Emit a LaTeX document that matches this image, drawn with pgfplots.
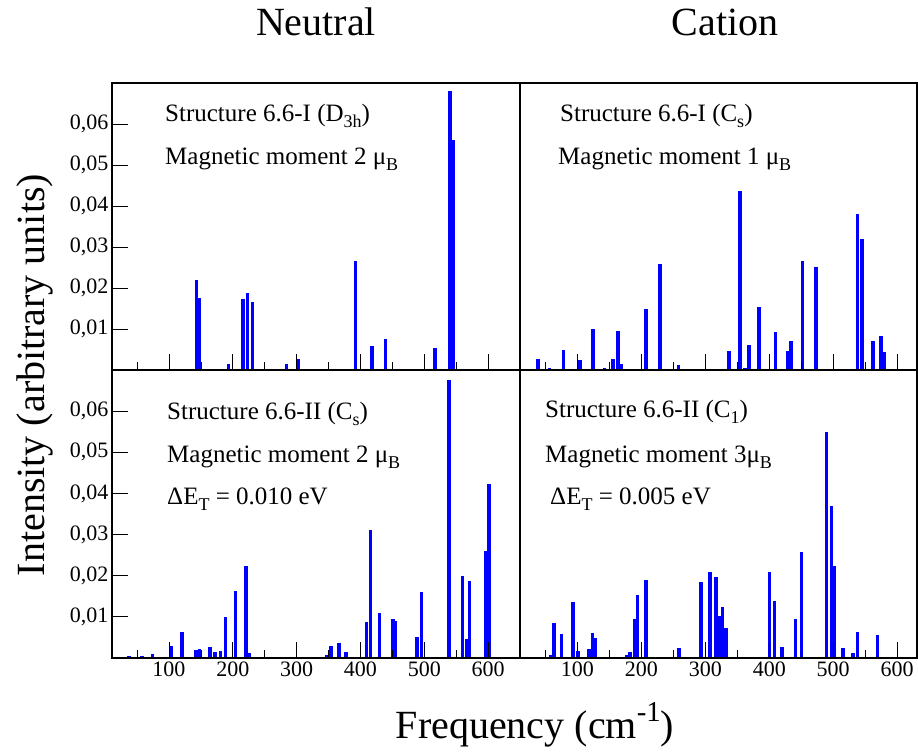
\documentclass[border=0pt]{standalone}
\usepackage{pgfplots}
\pgfplotsset{compat=1.18}
\usepackage{fontspec}
\setmainfont{Liberation Serif}
\newcommand{\sub}[1]{\raisebox{-0.45ex}{\scalebox{0.72}{#1}}}
\newcommand{\sups}[1]{\raisebox{0.9ex}{\scalebox{0.72}{#1}}}
\pgfplotsset{
  panel/.style={
    scale only axis, axis on top,
    ymin=0, ymax=0.07,
    scaled y ticks=false,
    xtick={100,200,300,400,500,600},
    minor xtick={50,150,250,350,450,550,650},
    ytick={0.01,0.02,0.03,0.04,0.05,0.06},
    xtick pos=left, ytick pos=left,
    tick align=inside,
    major tick length=16pt, minor tick length=8pt,
    tick style={black, line width=0.8pt},
    axis line style={line width=1.3pt},
    every tick label/.append style={font=\rmfamily\fontsize{22}{24}\selectfont},
    xticklabels={100,200,300,400,500,600},
    yticklabels={{0,01},{0,02},{0,03},{0,04},{0,05},{0,06}},
  },
  bars/.style={ycomb, blue, line width=3.5pt, mark=none},
}
\begin{document}
\begin{tikzpicture}[x=1pt,y=1pt]
\useasboundingbox (0,0) rectangle (918,753);
% top-left
\begin{axis}[panel, at={(112pt,383pt)}, anchor=south west, width=408pt, height=287pt,
  xmin=10.7, xmax=650, xticklabels={}]
\addplot[bars] coordinates {(143,0.022) (147,0.0175) (193,0.0015) (216,0.0172) (223,0.0187) (231,0.0165) (284,0.0015) (302,0.0027) (392,0.0266) (418,0.0059) (439,0.0075) (489,0.0003) (517,0.0053) (540,0.068) (545,0.056)};
\end{axis}
% top-right
\begin{axis}[panel, at={(520pt,383pt)}, anchor=south west, width=397pt, height=287pt,
  xmin=10.2, xmax=631, xticklabels={}, ytick=\empty]
\addplot[bars] coordinates {(38,0.0027) (56,0.0005) (78,0.0048) (104,0.0024) (124,0.0099) (142,0.0005) (156,0.0027) (163.5,0.0096) (169,0.0014) (184,0.0003) (207,0.0148) (229,0.0258) (258,0.0013) (337,0.0046) (354,0.0437) (362,0.0005) (368.5,0.006) (384,0.0153) (410,0.0093) (428.5,0.0046) (434,0.0071) (452,0.0265) (473,0.025) (480,0.0003) (538,0.038) (545,0.032) (562,0.0071) (575,0.0083) (579,0.0043)};
\end{axis}
% bottom-left
\begin{axis}[panel, at={(112pt,95pt)}, anchor=south west, width=408pt, height=288pt,
  xmin=10.7, xmax=650]
\addplot[bars] coordinates {(37.6,0.0005) (58,0.0005) (74,0.001) (103.5,0.0028) (120,0.0064) (142.6,0.002) (148,0.0021) (164.6,0.0027) (172,0.0014) (181,0.0017) (188.6,0.0099) (204,0.0163) (220.5,0.0223) (225,0.0013) (347,0.0008) (354,0.0028) (366,0.0036) (377,0.0014) (409.5,0.0088) (416,0.031) (430,0.011) (451,0.0095) (455,0.0091) (488.5,0.0051) (496,0.016) (538.6,0.0675) (560,0.020) (566,0.0046) (570.5,0.0186) (595.6,0.026) (601.4,0.0422)};
\end{axis}
% bottom-right
\begin{axis}[panel, at={(520pt,95pt)}, anchor=south west, width=397pt, height=288pt,
  xmin=10.2, xmax=631, ytick=\empty]
\addplot[bars] coordinates {(58,0.0008) (63.4,0.0085) (74.8,0.0059) (93,0.0135) (100.5,0.0017) (118,0.0022) (123.4,0.006) (127.6,0.0048) (177,0.0007) (182,0.0014) (190,0.0094) (193.7,0.0153) (207.4,0.019) (259,0.0024) (293.4,0.0184) (307,0.021) (317,0.0196) (321,0.0103) (327,0.0125) (332,0.0074) (400,0.021) (408,0.0138) (420,0.0026) (441,0.0095) (450,0.0258) (489.5,0.055) (497,0.037) (502,0.0224) (515.6,0.0024) (531,0.0011) (538,0.0063) (569,0.0057)};
\end{axis}
% titles and labels
\node[anchor=base, font=\fontsize{40}{44}\selectfont] at (316,717) {Neutral};
\node[anchor=base, font=\fontsize{40}{44}\selectfont] at (725,717) {Cation};
\node[anchor=base, font=\fontsize{40}{44}\selectfont] at (535,15) {Frequency (cm\sups{-1})};
\node[anchor=base, rotate=90, font=\fontsize{40}{44}\selectfont] at (44,378) {Intensity (arbitrary units)};
% annotations
\begin{scope}[every node/.style={anchor=base west, inner sep=0pt, font=\fontsize{25}{28}\selectfont}]
\node at (165,631) {Structure 6.6-I (D\sub{3h})};
\node at (165,588) {Magnetic moment 2 μ\sub{B}};
\node at (560,631) {Structure 6.6-I (C\sub{s})};
\node at (558,588) {Magnetic moment 1 μ\sub{B}};
\node at (167,333) {Structure 6.6-II (C\sub{s})};
\node at (167,290) {Magnetic moment 2 μ\sub{B}};
\node at (167,248) {ΔE\sub{T} = 0.010 eV};
\node at (545,335) {Structure 6.6-II (C\sub{1})};
\node at (545,290) {Magnetic moment 3μ\sub{B}};
\node at (550,248) {ΔE\sub{T} = 0.005 eV};
\end{scope}
\end{tikzpicture}
\end{document}
